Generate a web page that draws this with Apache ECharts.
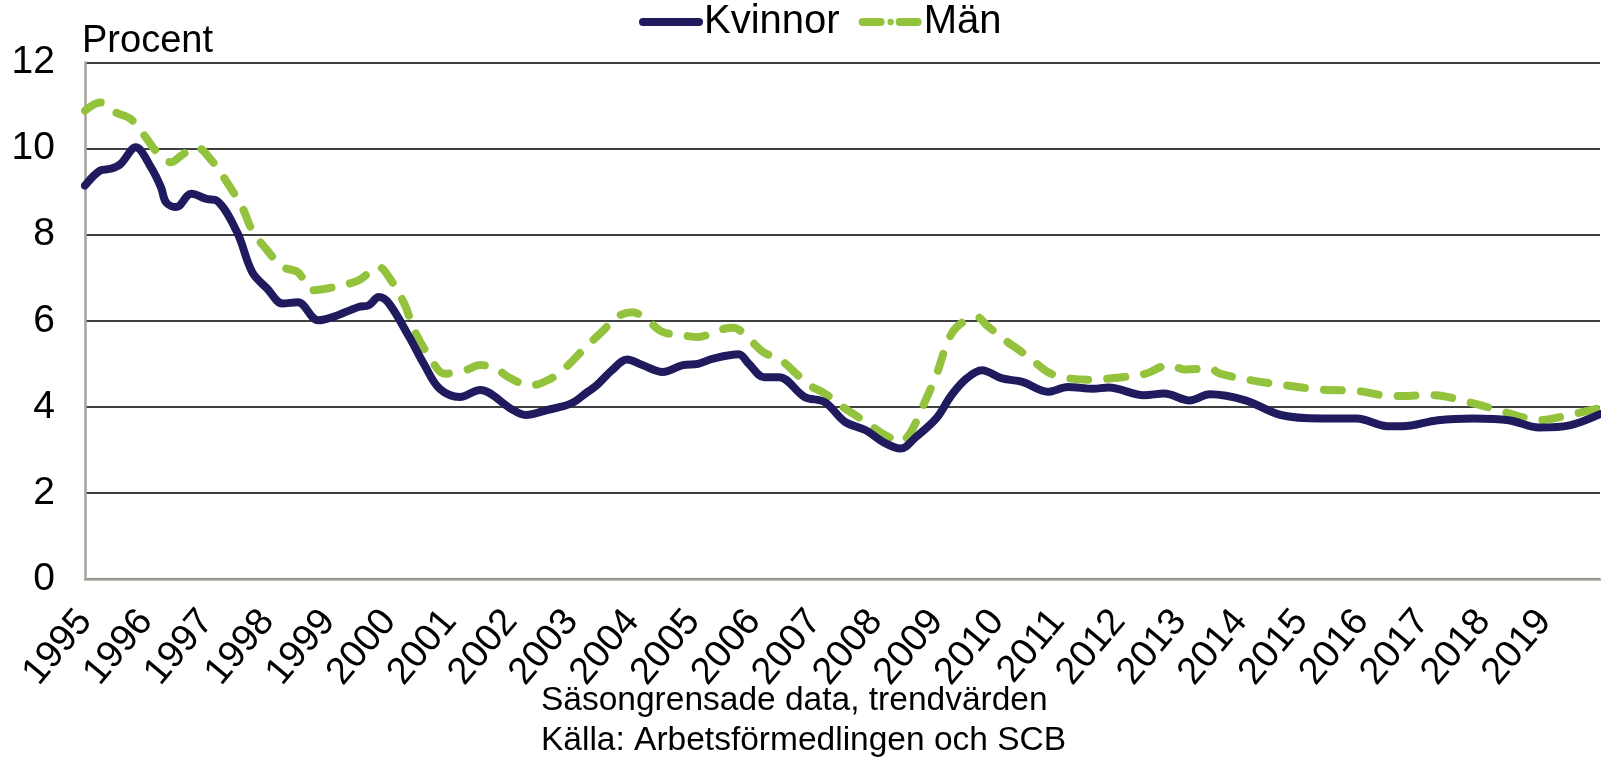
<!DOCTYPE html>
<html>
<head lang="sv">
    <meta charset="UTF-8">
    <title>Arbetslöshet kvinnor och män</title>
    <style type="text/css">
        html, body {
            margin: 0;
            padding: 0;
            background: #fff;
        }
        #mychart {
            width: 1601px;
            height: 760px;
        }
    </style>
</head>
<body>
<div id="mychart"></div>
<script src="https://cdn.jsdelivr.net/npm/echarts@6/dist/echarts.min.js"></script>
<script>
    // månadsindex, 0 = januari 1995
    var kvMonths = [0, 3, 5, 7, 10, 13, 15, 16, 18, 21, 24, 26, 30, 33, 36, 39, 42, 46, 49, 54,
        56, 58, 60, 64, 67, 70, 74, 78, 80, 84, 87, 91, 96, 99, 101, 104, 107, 110, 114, 118,
        121, 124, 129, 131, 134, 137, 142, 146, 150, 154, 158, 161, 164, 168, 171, 174, 177, 181, 185, 190,
        194, 199, 202, 209, 213, 218, 222, 229, 236, 244, 251, 257, 260, 267, 274, 281, 287, 293, 299];
    var kvValues = [9.14, 9.49, 9.53, 9.64, 10.03, 9.57, 9.10, 8.75, 8.64, 8.95, 8.83, 8.79, 8.06, 7.13, 6.74, 6.40, 6.43, 6.01, 6.09, 6.32,
        6.36, 6.55, 6.40, 5.62, 4.97, 4.42, 4.23, 4.39, 4.31, 3.96, 3.81, 3.92, 4.08, 4.33, 4.50, 4.85, 5.10, 4.97, 4.81, 4.97,
        5.00, 5.12, 5.22, 5.00, 4.69, 4.69, 4.23, 4.11, 3.65, 3.46, 3.15, 3.03, 3.30, 3.73, 4.27, 4.66, 4.85, 4.66, 4.58, 4.35,
        4.46, 4.42, 4.45, 4.27, 4.31, 4.15, 4.29, 4.15, 3.81, 3.73, 3.73, 3.55, 3.55, 3.69, 3.73, 3.69, 3.52, 3.57, 3.83];

    var manMonths = [0, 3, 6, 9, 12, 14, 17, 19, 22, 25, 28, 31, 33, 36, 39, 42, 45, 49, 54, 58,
        60, 63, 65, 68, 71, 75, 78, 81, 84, 88, 92, 95, 99, 102, 105, 108, 111, 114, 118, 121,
        125, 128, 131, 134, 137, 140, 143, 146, 149, 152, 155, 158, 161, 163, 165, 168, 170, 172, 176, 178,
        182, 184, 187, 190, 193, 199, 203, 209, 214, 217, 222, 224, 230, 237, 244, 251, 258, 266, 273, 279,
        283, 287, 293, 297, 299];
    var manValues = [10.88, 11.07, 10.84, 10.69, 10.26, 9.95, 9.68, 9.84, 10.03, 9.72, 9.22, 8.64, 8.10, 7.63, 7.25, 7.13, 6.71, 6.78, 6.94, 7.25,
        7.01, 6.40, 5.78, 5.16, 4.77, 4.85, 4.97, 4.89, 4.66, 4.50, 4.66, 4.93, 5.41, 5.74, 6.09, 6.20, 6.01, 5.74, 5.66, 5.62,
        5.78, 5.84, 5.58, 5.26, 5.12, 4.81, 4.50, 4.31, 4.04, 3.81, 3.57, 3.34, 3.19, 3.42, 3.92, 4.73, 5.43, 5.85, 6.09, 5.89,
        5.51, 5.35, 5.08, 4.81, 4.68, 4.63, 4.67, 4.76, 4.97, 4.87, 4.89, 4.77, 4.62, 4.50, 4.40, 4.37, 4.25, 4.27, 4.11, 3.92,
        3.78, 3.69, 3.81, 3.92, 3.97];

    var startYear = 1995;
    var seriesNames = ['Kvinnor', 'Män'];
    var footnote = ['Säsongrensade data, trendvärden', 'Källa: Arbetsförmedlingen och SCB'];

    var font = "'Liberation Sans', Arial, sans-serif";

    function toPairs(xs, ys) {
        var res = [];
        for (var i = 0; i < xs.length; i++) {
            res.push([xs[i], ys[i]]);
        }
        return res;
    }

    var myChart = echarts.init(document.getElementById('mychart'));

    var option = {
        animation: false,
        backgroundColor: '#fff',
        textStyle: {fontFamily: font, color: '#000'},
        title: {
            text: footnote.join('\n'),
            left: 541,
            top: 681,
            padding: 0,
            textStyle: {fontFamily: font, fontSize: 33.5, fontWeight: 'normal', lineHeight: 40, color: '#000'}
        },
        legend: {
            data: seriesNames,
            left: 639,
            top: 2,
            padding: 0,
            itemWidth: 56,
            itemHeight: 8,
            itemGap: 19,
            textStyle: {fontFamily: font, fontSize: 40, color: '#000'},
            lineStyle: {width: 8}
        },
        grid: {
            left: 85,
            right: 1,
            top: 62.5,
            bottom: 181,
            containLabel: false,
            outerBoundsMode: 'none'
        },
        xAxis: {
            type: 'value',
            min: 0,
            max: 299,
            interval: 12,
            axisLine: {show: true, lineStyle: {color: '#a8a29c', width: 2.5}},
            axisTick: {show: false},
            splitLine: {show: false},
            axisLabel: {
                rotate: 50,
                margin: 36,
                fontFamily: font,
                fontSize: 38,
                color: '#000',
                showMaxLabel: false,
                formatter: function (v) {
                    return v % 12 === 0 ? String(startYear + v / 12) : '';
                }
            }
        },
        yAxis: {
            type: 'value',
            min: 0,
            max: 12,
            interval: 2,
            name: 'Procent',
            nameLocation: 'end',
            nameGap: 2,
            nameTextStyle: {fontFamily: font, fontSize: 38, color: '#000', align: 'left', verticalAlign: 'bottom', padding: [0, 0, 0, -3]},
            axisLine: {show: true, lineStyle: {color: '#a8a29c', width: 2.5}},
            axisTick: {show: false},
            axisLabel: {margin: 30, fontFamily: font, fontSize: 39, color: '#000'},
            splitLine: {lineStyle: {color: '#000', width: 1.6}}
        },
        series: [
            {
                name: seriesNames[0],
                type: 'line',
                data: toPairs(kvMonths, kvValues),
                symbol: 'none',
                smooth: 0.35,
                color: '#1f1b5e',
                lineStyle: {width: 8, color: '#1f1b5e', cap: 'round', join: 'round'},
                z: 3
            },
            {
                name: seriesNames[1],
                type: 'line',
                data: toPairs(manMonths, manValues),
                symbol: 'none',
                smooth: 0.35,
                color: '#93c23d',
                lineStyle: {width: 8, color: '#93c23d', type: [18, 19], cap: 'round', join: 'round'},
                z: 2
            }
        ]
    };

    myChart.setOption(option);
</script>
</body>
</html>
